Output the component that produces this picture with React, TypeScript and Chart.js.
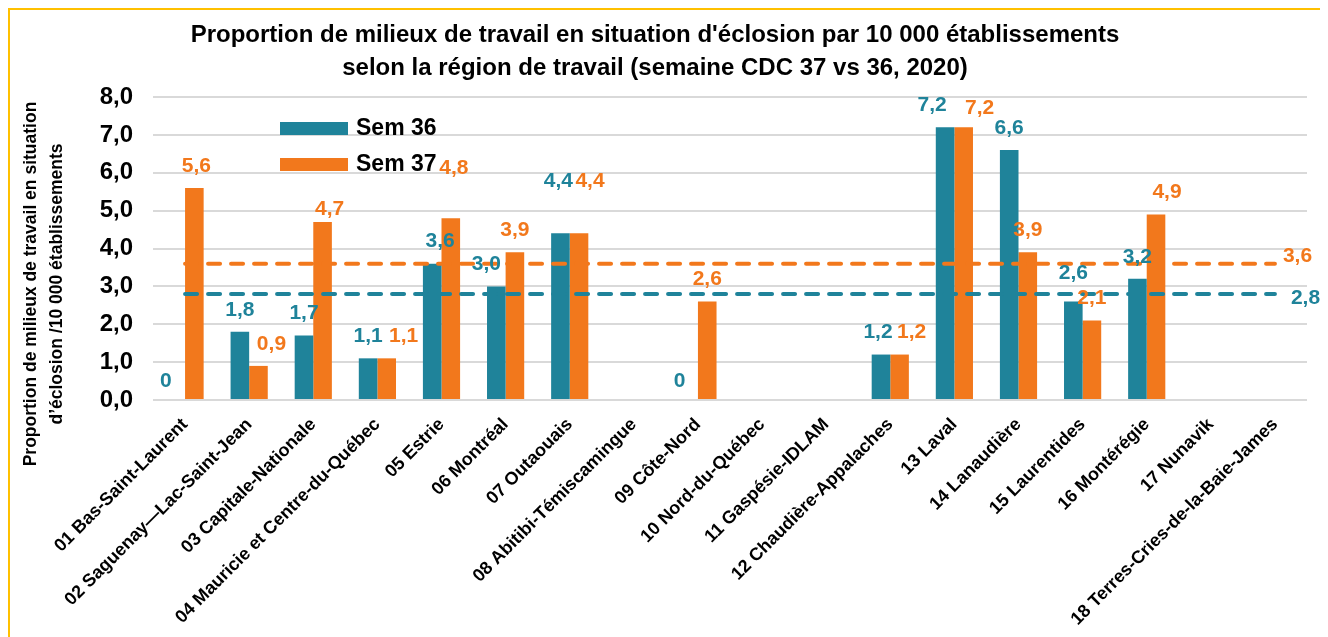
import React, { useEffect, useRef } from "react";
import { Chart, registerables } from "chart.js";

Chart.register(...registerables);

const CATEGORIES = [
  "01 Bas-Saint-Laurent",
  "02 Saguenay\u2014Lac-Saint-Jean",
  "03 Capitale-Nationale",
  "04 Mauricie et Centre-du-Québec",
  "05 Estrie",
  "06 Montréal",
  "07 Outaouais",
  "08 Abitibi-Témiscamingue",
  "09 Côte-Nord",
  "10 Nord-du-Québec",
  "11 Gaspésie-IDLAM",
  "12 Chaudière-Appalaches",
  "13 Laval",
  "14 Lanaudière",
  "15 Laurentides",
  "16 Montérégie",
  "17 Nunavik",
  "18 Terres-Cries-de-la-Baie-James",
];

const SEM36 = [0, 1.8, 1.7, 1.1, 3.6, 3.0, 4.4, null, 0, null, null, 1.2, 7.2, 6.6, 2.6, 3.2, null, null];
const SEM37 = [5.6, 0.9, 4.7, 1.1, 4.8, 3.9, 4.4, null, 2.6, null, null, 1.2, 7.2, 3.9, 2.1, 4.9, null, null];
const AVG36 = 2.8;
const AVG37 = 3.6;
const SERIES_NAMES = ["Sem 36", "Sem 37"];
const TITLE_LINES = [
  "Proportion de milieux de travail en situation d'éclosion par 10 000 établissements",
  "selon la région de travail (semaine CDC 37 vs 36, 2020)",
];
const Y_TITLE_LINES = [
  "Proportion de milieux de travail en situation",
  "d\u2019éclosion /10 000 établissements",
];

// Label nudges (pixels) mimicking the hand-placed data labels of the original
const LABEL_NUDGE_36: Record<number, [number, number]> = {
  0: [-10, 3],
  4: [8, 0],
  5: [-10, 0],
  6: [-2, -30],
  8: [-9, 3],
  11: [-3, 0],
  12: [-13, 0],
  14: [0, -6],
};
const LABEL_NUDGE_37: Record<number, [number, number]> = {
  0: [2, 0],
  1: [13, 0],
  2: [7, 9],
  3: [17, 0],
  4: [3, -28],
  6: [11, -30],
  11: [12, 0],
  12: [16, 3],
  15: [11, 0],
};

const TEAL = "#1F839A";
const ORANGE = "#F2781C";
const FONT = "'Liberation Sans', Arial, Helvetica, sans-serif";

const fmt = (v: number) => v.toFixed(1).replace(".", ",");
const fmtLabel = (v: number) => (v === 0 ? "0" : fmt(v));

const annotationsPlugin = {
  id: "annotations",
  afterDraw(chart: any) {
    const ctx = chart.ctx;
    ctx.save();
    // Title
    ctx.fillStyle = "#000";
    ctx.font = `bold 24px ${FONT}`;
    ctx.textAlign = "center";
    ctx.textBaseline = "middle";
    ctx.fillText(TITLE_LINES[0], 645, 25);
    ctx.fillText(TITLE_LINES[1], 645, 58);

    // Y title
    ctx.save();
    ctx.font = `bold 17.5px ${FONT}`;
    ctx.translate(21, 274);
    ctx.rotate(-Math.PI / 2);
    ctx.fillText(Y_TITLE_LINES[0], 0, 0);
    ctx.fillText(Y_TITLE_LINES[1], 0, 26);
    ctx.restore();

    // Legend
    const colors = [TEAL, ORANGE];
    ctx.font = `bold 23px ${FONT}`;
    ctx.textAlign = "left";
    for (let i = 0; i < 2; i++) {
      const y = 112 + i * 36;
      ctx.fillStyle = colors[i];
      ctx.fillRect(270, y, 68, 13);
      ctx.fillStyle = "#000";
      ctx.fillText(SERIES_NAMES[i], 346, y + 7);
    }

    // Data labels
    ctx.font = `bold 21px ${FONT}`;
    ctx.textAlign = "center";
    const sets = [SEM36, SEM37];
    const nudges = [LABEL_NUDGE_36, LABEL_NUDGE_37];
    for (let s = 0; s < 2; s++) {
      const meta = chart.getDatasetMeta(2 + s);
      ctx.fillStyle = colors[s];
      sets[s].forEach((v, i) => {
        if (v === null) return;
        const el = meta.data[i];
        if (!el) return;
        const [dx, dy] = nudges[s][i] || [0, 0];
        ctx.fillText(fmtLabel(v as number), el.x + dx, el.y - 22 + dy);
      });
    }

    // Average labels
    const x = chart.scales.x;
    const yS = chart.scales.y;
    const endX = x.getPixelForValue(CATEGORIES.length - 1);
    ctx.textAlign = "left";
    ctx.fillStyle = ORANGE;
    ctx.fillText(fmt(AVG37), endX + 8, yS.getPixelForValue(AVG37) - 7);
    ctx.fillStyle = TEAL;
    ctx.fillText(fmt(AVG36), endX + 16, yS.getPixelForValue(AVG36) + 4);
    ctx.restore();
  },
};

export default function App() {
  const canvasRef = useRef<HTMLCanvasElement | null>(null);

  useEffect(() => {
    document.body.style.overflow = "hidden";
    document.documentElement.style.overflow = "hidden";
    const canvas = canvasRef.current;
    if (!canvas) return;
    const first = CATEGORIES[0];
    const last = CATEGORIES[CATEGORIES.length - 1];
    const chart = new Chart(canvas, {
      type: "bar",
      data: {
        labels: CATEGORIES,
        datasets: [
          {
            type: "line",
            label: "Moyenne Sem 37",
            data: [
              { x: first, y: AVG37 },
              { x: last, y: AVG37 },
            ],
            borderColor: ORANGE,
            borderWidth: 4,
            borderDash: [12, 11],
            borderCapStyle: "round",
            pointRadius: 0,
            order: 0,
          } as any,
          {
            type: "line",
            label: "Moyenne Sem 36",
            data: [
              { x: first, y: AVG36 },
              { x: last, y: AVG36 },
            ],
            borderColor: TEAL,
            borderWidth: 4,
            borderDash: [12, 11],
            borderCapStyle: "round",
            pointRadius: 0,
            order: 0,
          } as any,
          {
            label: SERIES_NAMES[0],
            data: SEM36,
            backgroundColor: TEAL,
            categoryPercentage: 0.58,
            barPercentage: 1,
            order: 1,
          },
          {
            label: SERIES_NAMES[1],
            data: SEM37,
            backgroundColor: ORANGE,
            categoryPercentage: 0.58,
            barPercentage: 1,
            order: 1,
          },
        ],
      },
      options: {
        responsive: false,
        animation: false,
        layout: { padding: { top: 87, right: 21, left: 0, bottom: 0 } },
        plugins: {
          legend: { display: false },
          title: { display: false },
          tooltip: { enabled: false },
        },
        scales: {
          x: {
            grid: { display: false },
            border: { display: false },
            ticks: {
              autoSkip: false,
              maxRotation: 45,
              minRotation: 45,
              color: "#000",
              font: { family: FONT, size: 18, weight: "bold" },
              padding: 6,
            },
            afterFit(scale: any) {
              scale.height = 237;
            },
          },
          y: {
            min: 0,
            max: 8,
            border: { display: false },
            grid: { color: "#D9D9D9", lineWidth: 2, drawTicks: false },
            ticks: {
              stepSize: 1,
              color: "#000",
              font: { family: FONT, size: 24, weight: "bold" },
              padding: 20,
              callback: (v: any) => fmt(Number(v)),
            },
            afterFit(scale: any) {
              scale.width = 143;
            },
          },
        },
      },
      plugins: [annotationsPlugin],
    });
    return () => chart.destroy();
  }, []);

  return (
    <div
      style={{
        position: "relative",
        width: 1320,
        height: 629,
        boxSizing: "border-box",
        borderTop: "2px solid #FFC000",
        borderLeft: "2px solid #FFC000",
        background: "#fff",
      }}
    >
      <canvas
        ref={canvasRef}
        width={1318}
        height={627}
        style={{ position: "absolute", left: 0, top: 0, width: 1318, height: 627 }}
      />
    </div>
  );
}
